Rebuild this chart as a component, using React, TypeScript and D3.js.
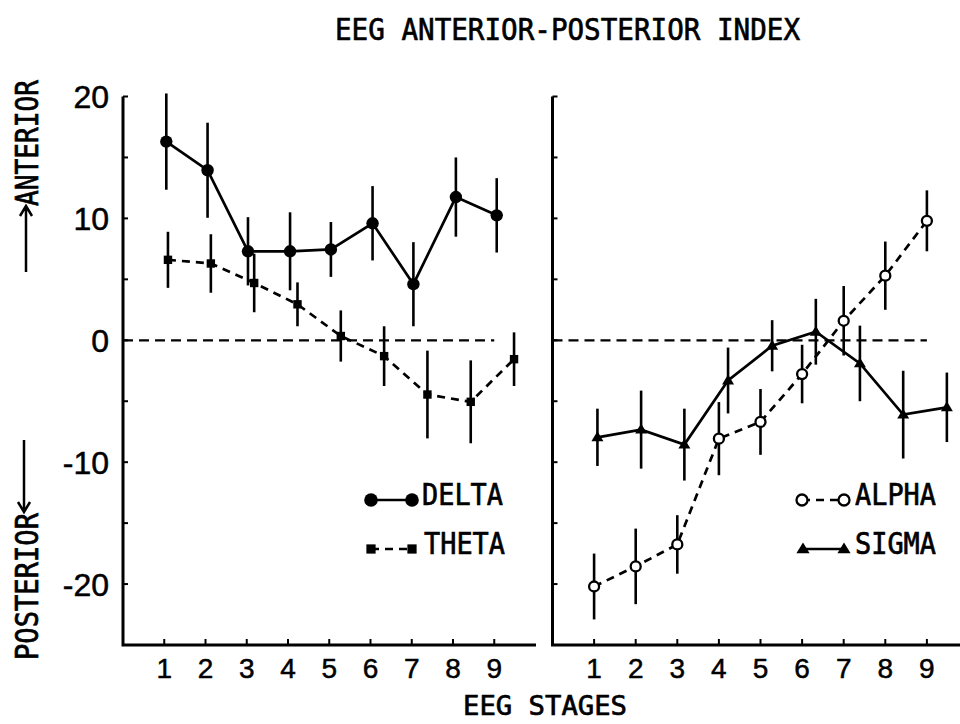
import React from "react";
import * as d3 from "d3";

// ---------- data ----------
const stages = [1, 2, 3, 4, 5, 6, 7, 8, 9];
const yTickValues = [20, 10, 0, -10, -20];
const yMinorTicks = [20, 15, 10, 5, 0, -5, -10, -15, -20, -25];

// left panel
const deltaPos = [1.05, 2.05, 3.03, 4.05, 5.04, 6.05, 7.04, 8.07, 9.06];
const deltaMean = [16.3, 13.95, 7.3, 7.3, 7.45, 9.6, 4.6, 11.75, 10.25];
const deltaErr = [3.95, 3.9, 2.8, 3.2, 2.25, 3.05, 3.45, 3.25, 3.05];

const thetaPos = [1.09, 2.13, 3.18, 4.23, 5.28, 6.33, 7.38, 8.43, 9.48];
const thetaMean = [6.6, 6.3, 4.7, 2.95, 0.35, -1.3, -4.45, -5.05, -1.55];
const thetaErr = [2.3, 2.4, 2.4, 1.8, 2.1, 2.45, 3.6, 3.4, 2.2];

// right panel
const alphaPos = [1, 2, 3, 4, 5, 6, 7, 8, 9];
const alphaMean = [-20.2, -18.55, -16.75, -8.07, -6.7, -2.77, 1.6, 5.3, 9.8];
const alphaErr = [2.7, 3.1, 2.4, 3.0, 2.7, 2.4, 2.85, 2.8, 2.5];

const sigmaPos = [1.08, 2.13, 3.17, 4.22, 5.28, 6.33, 7.39, 8.43, 9.48];
const sigmaMean = [-7.96, -7.33, -8.56, -3.3, -0.45, 0.7, -1.9, -6.1, -5.5];
const sigmaErr = [2.35, 3.2, 2.95, 2.7, 2.1, 2.7, 3.1, 3.6, 2.85];

const titleText = "EEG ANTERIOR-POSTERIOR INDEX";
const xTitle = "EEG STAGES";

// ---------- layout ----------
const W = 960;
const H = 724;
const MONO = "'DejaVu Sans Mono', monospace";
const SANS = "'Liberation Sans', Arial, sans-serif";
const TXT_STROKE = { stroke: "#000", strokeWidth: 0.7 };

const y = d3.scaleLinear().domain([-25, 20]).range([645, 96.5]);
const xL = d3.scaleLinear().domain([0, 10]).range([123, 535.5]);
const xR = d3.scaleLinear().domain([0, 10]).range([552.5, 968.5]);

type Pt = { x: number; m: number; e: number };
const zip = (p: number[], m: number[], e: number[]): Pt[] =>
  p.map((v, i) => ({ x: v, m: m[i], e: e[i] }));

const delta = zip(deltaPos, deltaMean, deltaErr);
const theta = zip(thetaPos, thetaMean, thetaErr);
const alpha = zip(alphaPos, alphaMean, alphaErr);
const sigma = zip(sigmaPos, sigmaMean, sigmaErr);

function Panel({
  xs,
  axisEnd,
  showLabels,
}: {
  xs: d3.ScaleLinear<number, number>;
  axisEnd: number;
  showLabels: boolean;
}) {
  const x0 = xs(0);
  return (
    <g>
      <path
        d={`M${x0},${y(20)} V${y(-25)} H${axisEnd}`}
        fill="none"
        stroke="#000"
        strokeWidth={3}
      />
      {yMinorTicks.map((t) => (
        <line key={t} x1={x0} x2={x0 + 5} y1={y(t)} y2={y(t)} stroke="#000" strokeWidth={2} />
      ))}
      {stages.map((s) => (
        <line key={s} x1={xs(s)} x2={xs(s)} y1={y(-25)} y2={y(-25) - 6} stroke="#000" strokeWidth={2} />
      ))}
      {stages.map((s) => (
        <text
          key={s}
          x={xs(s)}
          y={678}
          textAnchor="middle"
          fontFamily={SANS}
          fontSize={28}
          fill="#000"
          {...TXT_STROKE}
          strokeWidth={0.5}
        >
          {s}
        </text>
      ))}
      {showLabels &&
        yTickValues.map((t) => (
          <text
            key={t}
            x={109}
            y={y(t)}
            dy="0.36em"
            textAnchor="end"
            fontFamily={SANS}
            fontSize={32}
            fill="#000"
            {...TXT_STROKE}
            strokeWidth={0.5}
          >
            {t < 0 ? "-" + Math.abs(t) : t}
          </text>
        ))}
      <line
        x1={x0}
        x2={xs(9)}
        y1={y(0)}
        y2={y(0)}
        stroke="#000"
        strokeWidth={2.2}
        strokeDasharray="10 6"
      />
    </g>
  );
}

function ErrorBars({ data, xs }: { data: Pt[]; xs: d3.ScaleLinear<number, number> }) {
  return (
    <g>
      {data.map((d, i) => (
        <line
          key={i}
          x1={xs(d.x)}
          x2={xs(d.x)}
          y1={y(d.m + d.e)}
          y2={y(d.m - d.e)}
          stroke="#000"
          strokeWidth={2.6}
        />
      ))}
    </g>
  );
}

function SeriesLine({
  data,
  xs,
  dash,
}: {
  data: Pt[];
  xs: d3.ScaleLinear<number, number>;
  dash?: string;
}) {
  const gen = d3
    .line<Pt>()
    .x((d) => xs(d.x))
    .y((d) => y(d.m));
  return (
    <path
      d={gen(data) || ""}
      fill="none"
      stroke="#000"
      strokeWidth={2.7}
      strokeDasharray={dash}
    />
  );
}

type MarkerKind = "circle" | "square" | "open" | "triangle";

function Marker({ kind, cx, cy, s = 1 }: { kind: MarkerKind; cx: number; cy: number; s?: number }) {
  if (kind === "circle") return <circle cx={cx} cy={cy} r={6.2 * s} fill="#000" />;
  if (kind === "square")
    return <rect x={cx - 4.2 * s} y={cy - 4.2 * s} width={8.4 * s} height={8.4 * s} fill="#000" />;
  if (kind === "open")
    return <circle cx={cx} cy={cy} r={5 * s} fill="#fff" stroke="#000" strokeWidth={2.3} />;
  const w = 6 * s;
  return (
    <path
      d={`M${cx},${cy - w} L${cx + w},${cy + w * 0.65} L${cx - w},${cy + w * 0.65} Z`}
      fill="#000"
    />
  );
}

function Markers({ data, xs, kind }: { data: Pt[]; xs: d3.ScaleLinear<number, number>; kind: MarkerKind }) {
  return (
    <g>
      {data.map((d, i) => (
        <Marker key={i} kind={kind} cx={xs(d.x)} cy={y(d.m)} />
      ))}
    </g>
  );
}

function LegendRow({
  x1,
  x2,
  cy,
  kind,
  dash,
  label,
  tx,
}: {
  x1: number;
  x2: number;
  cy: number;
  kind: MarkerKind;
  dash?: string;
  label: string;
  tx: number;
}) {
  return (
    <g>
      <line x1={x1} x2={x2} y1={cy} y2={cy} stroke="#000" strokeWidth={2.5} strokeDasharray={dash} />
      <Marker kind={kind} cx={x1} cy={cy} s={1.1} />
      <Marker kind={kind} cx={x2} cy={cy} s={1.1} />
      <text
        x={tx}
        y={cy + 5}
        fontFamily={MONO}
        fontSize={30}
        textLength={81}
        lengthAdjust="spacingAndGlyphs"
        fill="#000"
        {...TXT_STROKE}
      >
        {label}
      </text>
    </g>
  );
}

export default function App() {
  return (
    <div style={{ position: "absolute", left: 0, top: 0, width: W, height: H, background: "#fff" }}>
      <svg width={W} height={H} style={{ display: "block" }}>
        <rect width={W} height={H} fill="#fff" />
        <text
          x={335}
          y={40}
          fontFamily={MONO}
          fontSize={31}
          textLength={465}
          lengthAdjust="spacingAndGlyphs"
          fill="#000"
          {...TXT_STROKE}
        >
          {titleText}
        </text>

        <text
          transform="translate(38,206) rotate(-90)"
          fontFamily={MONO}
          fontSize={32}
          textLength={126}
          lengthAdjust="spacingAndGlyphs"
          fill="#000"
          {...TXT_STROKE}
        >
          ANTERIOR
        </text>
        <path d="M26,272 V207 M20,216 L26,206 L32,216" fill="none" stroke="#000" strokeWidth={2.5} />
        <text
          transform="translate(38,660) rotate(-90)"
          fontFamily={MONO}
          fontSize={32}
          textLength={147}
          lengthAdjust="spacingAndGlyphs"
          fill="#000"
          {...TXT_STROKE}
        >
          POSTERIOR
        </text>
        <path d="M24,440 V511 M18,502 L24,512 L30,502" fill="none" stroke="#000" strokeWidth={2.5} />

        <Panel xs={xL} axisEnd={536} showLabels={true} />
        <Panel xs={xR} axisEnd={960} showLabels={false} />

        <ErrorBars data={delta} xs={xL} />
        <ErrorBars data={theta} xs={xL} />
        <SeriesLine data={delta} xs={xL} />
        <SeriesLine data={theta} xs={xL} dash="8 6" />
        <Markers data={theta} xs={xL} kind="square" />
        <Markers data={delta} xs={xL} kind="circle" />

        <ErrorBars data={alpha} xs={xR} />
        <ErrorBars data={sigma} xs={xR} />
        <SeriesLine data={sigma} xs={xR} />
        <SeriesLine data={alpha} xs={xR} dash="8 6" />
        <Markers data={sigma} xs={xR} kind="triangle" />
        <Markers data={alpha} xs={xR} kind="open" />

        <LegendRow x1={371} x2={412} cy={500} kind="circle" label="DELTA" tx={422} />
        <LegendRow x1={371} x2={412} cy={549} kind="square" dash="8 6" label="THETA" tx={424} />
        <LegendRow x1={802} x2={844} cy={500} kind="open" dash="8 6" label="ALPHA" tx={855} />
        <LegendRow x1={803} x2={844} cy={549} kind="triangle" label="SIGMA" tx={855} />

        <text
          x={463}
          y={715}
          fontFamily={MONO}
          fontSize={27}
          textLength={164}
          lengthAdjust="spacingAndGlyphs"
          fill="#000"
          {...TXT_STROKE}
        >
          {xTitle}
        </text>
      </svg>
    </div>
  );
}
